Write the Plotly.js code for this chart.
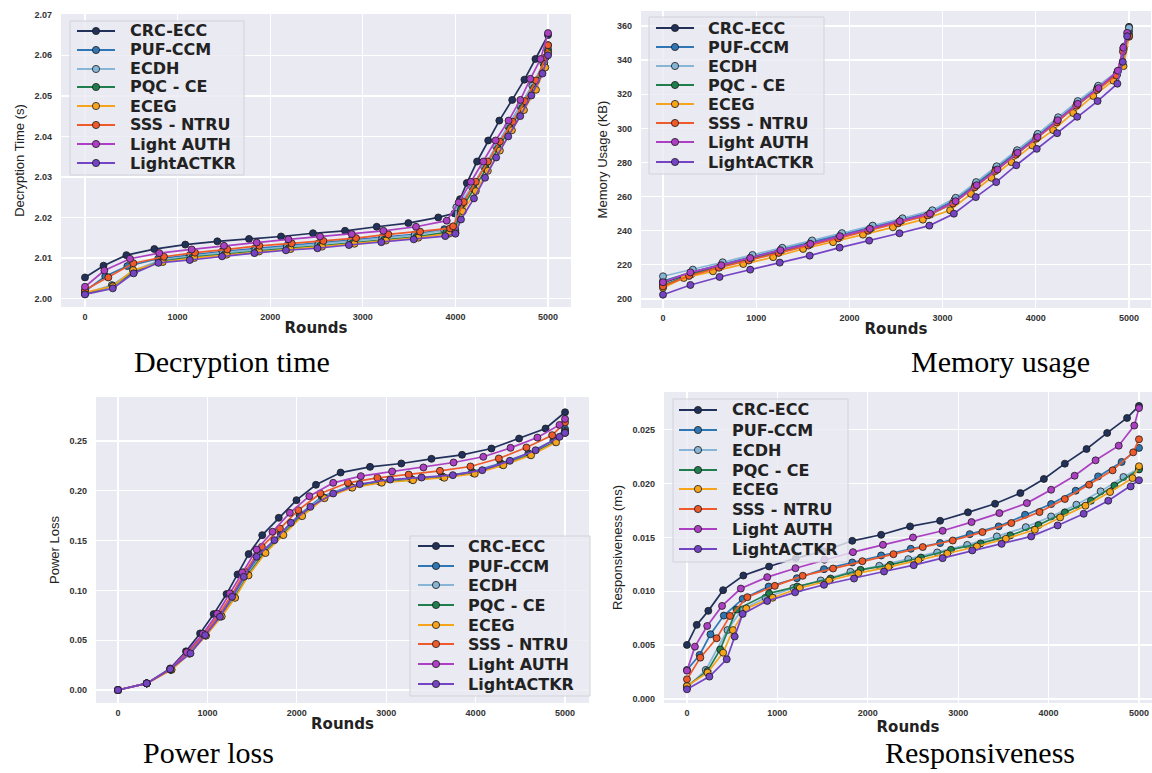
<!DOCTYPE html>
<html>
<head>
<meta charset="utf-8">
<script src="https://cdn.plot.ly/plotly-3.0.1.min.js"></script>
<style>html,body{margin:0;padding:0;background:#fff;}#chart{width:1152px;height:773px;}</style>
</head>
<body>
<div id="chart"></div>
<script>
// ---------- series names ----------
const seriesNames = ['CRC-ECC', 'PUF-CCM', 'ECDH', 'PQC - CE', 'ECEG', 'SSS - NTRU', 'Light AUTH', 'LightACTKR'];
const xTicks = [0, 1000, 2000, 3000, 4000, 5000];
const captions = ['Decryption time', 'Memory usage', 'Power loss', 'Responsiveness'];
const yTitles = ['Decryption Time (s)', 'Memory Usage (KB)', 'Power Loss', 'Responsiveness (ms)'];

// ---------- Panel 1: Decryption time ----------
const decCRC_x = [0, 200, 447, 749, 1083, 1429, 1771, 2117, 2462, 2808, 3150, 3492, 3815, 3990, 4050, 4123, 4234, 4354, 4474, 4613, 4745, 4864, 5000];
const decCRC_y = [2.0052, 2.0081, 2.0107, 2.0122, 2.0133, 2.0141, 2.0147, 2.0153, 2.0161, 2.0167, 2.0177, 2.0186, 2.0200, 2.0210, 2.0245, 2.0285, 2.0338, 2.0390, 2.0439, 2.0490, 2.0540, 2.0591, 2.0650];
const decPUF_x = [0, 219, 458, 790, 1130, 1480, 1830, 2180, 2520, 2870, 3210, 3560, 3880, 3995, 4070, 4200, 4330, 4460, 4590, 4720, 4850, 4960, 5000];
const decPUF_y = [2.0018, 2.0055, 2.0080, 2.0098, 2.0107, 2.0116, 2.0123, 2.0130, 2.0136, 2.0143, 2.0151, 2.0158, 2.0171, 2.0175, 2.0232, 2.0283, 2.0333, 2.0383, 2.0433, 2.0483, 2.0533, 2.0583, 2.0625];
const decECDH_x = [0, 290, 520, 800, 1140, 1490, 1840, 2180, 2520, 2870, 3210, 3560, 3880, 3995, 4010, 4180, 4310, 4440, 4570, 4700, 4830, 4950, 5000];
const decECDH_y = [2.0012, 2.0033, 2.0068, 2.0094, 2.0104, 2.0113, 2.0120, 2.0127, 2.0133, 2.0140, 2.0148, 2.0156, 2.0168, 2.0172, 2.0225, 2.0275, 2.0325, 2.0375, 2.0425, 2.0475, 2.0525, 2.0580, 2.0615];
const decPQC_x = [0, 300, 530, 820, 1160, 1510, 1860, 2200, 2540, 2890, 3230, 3580, 3900, 3998, 4060, 4200, 4330, 4460, 4590, 4720, 4850, 4960, 5000];
const decPQC_y = [2.0011, 2.0031, 2.0066, 2.0092, 2.0102, 2.0110, 2.0117, 2.0124, 2.0130, 2.0137, 2.0145, 2.0152, 2.0163, 2.0168, 2.0220, 2.0270, 2.0320, 2.0370, 2.0420, 2.0470, 2.0520, 2.0575, 2.0610];
const decECEG_x = [0, 300, 520, 840, 1180, 1530, 1880, 2220, 2560, 2910, 3250, 3600, 3930, 4000, 4080, 4220, 4350, 4480, 4610, 4740, 4870, 4970, 5000];
const decECEG_y = [2.0015, 2.0030, 2.0070, 2.0090, 2.0100, 2.0108, 2.0116, 2.0122, 2.0128, 2.0135, 2.0143, 2.0150, 2.0160, 2.0163, 2.0215, 2.0265, 2.0315, 2.0365, 2.0415, 2.0465, 2.0515, 2.0570, 2.0605];
const decSSS_x = [0, 252, 522, 853, 1188, 1537, 1883, 2232, 2574, 2927, 3276, 3618, 3942, 3975, 4090, 4220, 4350, 4480, 4620, 4750, 4870, 4975, 5000];
const decSSS_y = [2.0021, 2.0052, 2.0087, 2.0103, 2.0113, 2.0121, 2.0130, 2.0136, 2.0142, 2.0149, 2.0158, 2.0165, 2.0173, 2.0178, 2.0238, 2.0288, 2.0338, 2.0387, 2.0436, 2.0487, 2.0538, 2.0595, 2.0625];
const decAUTH_x = [0, 209, 486, 802, 1152, 1501, 1854, 2196, 2538, 2880, 3222, 3574, 3906, 4035, 4167, 4302, 4434, 4574, 4701, 4809, 4920, 5000];
const decAUTH_y = [2.0029, 2.0069, 2.0098, 2.0112, 2.0121, 2.0130, 2.0138, 2.0146, 2.0153, 2.0159, 2.0167, 2.0177, 2.0192, 2.0237, 2.0288, 2.0338, 2.0390, 2.0439, 2.0490, 2.0542, 2.0591, 2.0655];
const decACT_x = [0, 300, 525, 793, 1132, 1480, 1830, 2170, 2510, 2850, 3200, 3550, 3890, 4000, 4060, 4200, 4320, 4440, 4570, 4700, 4820, 4940, 5000];
const decACT_y = [2.0010, 2.0025, 2.0062, 2.0088, 2.0095, 2.0104, 2.0112, 2.0119, 2.0124, 2.0132, 2.0139, 2.0146, 2.0154, 2.0160, 2.0195, 2.0247, 2.0298, 2.0348, 2.0400, 2.0450, 2.0501, 2.0555, 2.0600];

// ---------- Panel 2: Memory usage ----------
const memCRC_x = [0, 300, 620, 940, 1260, 1580, 1900, 2220, 2540, 2860, 3120, 3350, 3570, 3790, 4010, 4230, 4440, 4660, 4870, 4940, 5000];
const memCRC_y = [209.5, 215.0, 219.5, 224.0, 228.3, 232.5, 236.8, 241.2, 245.5, 250.0, 257.0, 266.5, 276.0, 285.5, 295.0, 304.5, 314.0, 323.5, 332.0, 347.0, 359.5];
const memPUF_x = [0, 310, 630, 950, 1270, 1590, 1910, 2240, 2560, 2880, 3130, 3355, 3575, 3795, 4015, 4235, 4445, 4665, 4875, 4945, 5000];
const memPUF_y = [210.5, 215.8, 220.3, 224.8, 229.2, 233.5, 237.8, 242.2, 246.5, 251.0, 258.2, 267.5, 277.0, 286.5, 296.0, 305.5, 315.0, 324.3, 332.8, 347.5, 357.0];
const memECDH_x = [0, 320, 640, 960, 1280, 1600, 1920, 2250, 2570, 2890, 3140, 3360, 3580, 3800, 4020, 4240, 4450, 4670, 4880, 4950, 5000];
const memECDH_y = [213.3, 217.2, 221.5, 225.8, 230.0, 234.3, 238.6, 243.0, 247.3, 252.0, 259.3, 268.5, 277.8, 287.2, 296.8, 306.5, 316.0, 325.0, 333.5, 348.0, 359.0];
const memPQC_x = [0, 305, 625, 945, 1265, 1585, 1905, 2230, 2550, 2870, 3125, 3352, 3572, 3792, 4012, 4232, 4442, 4662, 4872, 4942, 5000];
const memPQC_y = [208.0, 214.5, 219.0, 223.3, 227.8, 232.0, 236.3, 240.8, 245.0, 249.5, 256.5, 266.0, 275.5, 285.0, 294.5, 304.0, 313.5, 323.0, 331.5, 346.0, 355.0];
const memECEG_x = [0, 223, 536, 861, 1182, 1503, 1825, 2146, 2467, 2788, 3081, 3305, 3524, 3739, 3962, 4186, 4401, 4616, 4832, 4941, 5000];
const memECEG_y = [206.5, 212.3, 216.2, 220.5, 224.5, 229.3, 233.3, 237.7, 242.0, 246.5, 252.0, 261.6, 271.0, 280.2, 290.0, 299.0, 309.0, 319.0, 328.0, 336.5, 353.7];
const memSSS_x = [0, 280, 600, 920, 1240, 1560, 1880, 2200, 2520, 2840, 3110, 3345, 3565, 3785, 4005, 4225, 4435, 4655, 4865, 4935, 5000];
const memSSS_y = [207.4, 213.5, 218.3, 222.5, 227.0, 231.3, 235.5, 240.0, 244.3, 249.0, 256.0, 265.5, 275.0, 284.5, 294.0, 303.5, 313.3, 322.5, 331.0, 345.0, 354.0];
const memAUTH_x = [0, 294, 626, 936, 1260, 1581, 1898, 2219, 2540, 2865, 3140, 3366, 3589, 3804, 4019, 4235, 4450, 4673, 4881, 4940, 4980];
const memAUTH_y = [209.8, 215.6, 219.8, 224.0, 228.6, 232.3, 236.8, 241.1, 245.6, 250.0, 257.3, 266.7, 275.9, 285.7, 294.9, 304.8, 314.4, 323.6, 333.8, 347.3, 356.0];
const memACT_x = [0, 294, 607, 936, 1253, 1574, 1895, 2212, 2537, 2858, 3121, 3356, 3575, 3790, 4010, 4229, 4444, 4663, 4875, 4933, 4980];
const memACT_y = [202.5, 208.2, 212.9, 217.2, 221.3, 225.4, 230.1, 234.2, 238.5, 243.0, 250.0, 259.7, 268.5, 278.4, 288.0, 297.2, 306.8, 316.0, 326.2, 339.0, 354.0];

// ---------- Panel 3: Power loss ----------
const powCRC_x = [0, 321, 584, 761, 918, 1070, 1214, 1337, 1461, 1613, 1798, 1996, 2214, 2490, 2819, 3169, 3506, 3848, 4177, 4486, 4782, 5000];
const powCRC_y = [0, 0.0067, 0.0217, 0.0388, 0.0568, 0.0762, 0.0963, 0.1160, 0.1364, 0.1554, 0.1728, 0.1905, 0.2059, 0.2182, 0.2239, 0.2273, 0.2320, 0.2360, 0.2423, 0.2523, 0.2624, 0.2787];
const powPUF_x = [0, 321, 584, 780, 965, 1140, 1290, 1440, 1620, 1820, 2030, 2280, 2590, 2920, 3270, 3620, 3960, 4280, 4590, 4870, 5000];
const powPUF_y = [0, 0.0067, 0.0205, 0.0370, 0.0550, 0.0750, 0.0940, 0.1170, 0.1390, 0.1570, 0.1760, 0.1940, 0.2045, 0.2095, 0.2120, 0.2145, 0.2190, 0.2275, 0.2375, 0.2505, 0.2620];
const powECDH_x = [0, 321, 590, 790, 975, 1150, 1300, 1450, 1630, 1830, 2040, 2290, 2600, 2930, 3280, 3630, 3970, 4290, 4600, 4880, 5000];
const powECDH_y = [0, 0.0067, 0.0205, 0.0370, 0.0550, 0.0745, 0.0935, 0.1160, 0.1385, 0.1565, 0.1755, 0.1935, 0.2040, 0.2090, 0.2115, 0.2140, 0.2180, 0.2265, 0.2365, 0.2495, 0.2600];
const powPQC_x = [0, 321, 595, 795, 980, 1155, 1305, 1455, 1640, 1840, 2050, 2300, 2610, 2940, 3290, 3640, 3980, 4300, 4610, 4890, 5000];
const powPQC_y = [0, 0.0067, 0.0205, 0.0368, 0.0548, 0.0740, 0.0930, 0.1155, 0.1380, 0.1560, 0.1750, 0.1930, 0.2035, 0.2085, 0.2110, 0.2135, 0.2175, 0.2260, 0.2360, 0.2490, 0.2590];
const powECEG_x = [0, 321, 600, 800, 985, 1160, 1310, 1460, 1650, 1850, 2060, 2310, 2620, 2950, 3300, 3650, 3990, 4310, 4620, 4900, 5000];
const powECEG_y = [0, 0.0067, 0.0203, 0.0365, 0.0545, 0.0738, 0.0925, 0.1150, 0.1375, 0.1555, 0.1745, 0.1925, 0.2030, 0.2080, 0.2105, 0.2130, 0.2170, 0.2255, 0.2355, 0.2485, 0.2580];
const powSSS_x = [0, 321, 584, 775, 960, 1130, 1270, 1420, 1609, 1811, 2016, 2263, 2572, 2901, 3251, 3601, 3942, 4259, 4568, 4856, 5000];
const powSSS_y = [0, 0.0067, 0.0205, 0.0375, 0.0555, 0.0760, 0.0955, 0.1185, 0.1437, 0.1621, 0.1805, 0.1972, 0.2079, 0.2129, 0.2162, 0.2199, 0.2243, 0.2323, 0.2433, 0.2557, 0.2685];
const powAUTH_x = [0, 321, 584, 770, 950, 1110, 1250, 1390, 1551, 1728, 1922, 2140, 2407, 2716, 3066, 3416, 3753, 4086, 4391, 4691, 4938, 5000];
const powAUTH_y = [0, 0.0067, 0.0210, 0.0380, 0.0565, 0.0765, 0.0970, 0.1180, 0.1410, 0.1588, 0.1778, 0.1945, 0.2079, 0.2146, 0.2193, 0.2233, 0.2283, 0.2340, 0.2430, 0.2533, 0.2660, 0.2720];
const powACT_x = [0, 321, 584, 811, 975, 1140, 1276, 1407, 1551, 1749, 1934, 2152, 2407, 2704, 3045, 3395, 3745, 4074, 4383, 4671, 4938, 5000];
const powACT_y = [0, 0.0067, 0.0210, 0.0368, 0.0551, 0.0735, 0.0936, 0.1136, 0.1337, 0.1504, 0.1678, 0.1838, 0.1972, 0.2066, 0.2112, 0.2132, 0.2156, 0.2206, 0.2300, 0.2406, 0.2540, 0.2580];

// ---------- Panel 4: Responsiveness ----------
const resCRC_x = [0, 108, 236, 400, 624, 908, 1204, 1512, 1828, 2148, 2468, 2800, 3108, 3408, 3688, 3948, 4180, 4420, 4648, 4868, 5000];
const resCRC_y = [0.00502, 0.00688, 0.00818, 0.01010, 0.01146, 0.01230, 0.01307, 0.01372, 0.01468, 0.01524, 0.01602, 0.01654, 0.01732, 0.01812, 0.01911, 0.02042, 0.02184, 0.02320, 0.02469, 0.02608, 0.02720];
const resPUF_x = [0, 140, 260, 408, 616, 904, 1216, 1516, 1828, 2148, 2476, 2800, 3128, 3448, 3740, 4028, 4300, 4548, 4808, 5000];
const resPUF_y = [0.00270, 0.00409, 0.00601, 0.00774, 0.00929, 0.01044, 0.01121, 0.01205, 0.01267, 0.01332, 0.01394, 0.01447, 0.01530, 0.01602, 0.01710, 0.01809, 0.01933, 0.02066, 0.02200, 0.02330];
const resECDH_x = [0, 208, 448, 608, 868, 1176, 1480, 1808, 2128, 2448, 2768, 3100, 3428, 3748, 4028, 4308, 4576, 4828, 5000];
const resECDH_y = [0.00105, 0.00270, 0.00640, 0.00830, 0.00940, 0.01030, 0.01100, 0.01180, 0.01236, 0.01298, 0.01360, 0.01430, 0.01509, 0.01595, 0.01694, 0.01803, 0.01927, 0.02060, 0.02140];
const resPQC_x = [0, 228, 368, 548, 908, 1220, 1588, 1920, 2248, 2588, 2920, 3248, 3576, 3888, 4180, 4468, 4728, 5000];
const resPQC_y = [0.00120, 0.00260, 0.00460, 0.00830, 0.00980, 0.01044, 0.01118, 0.01199, 0.01245, 0.01313, 0.01385, 0.01444, 0.01518, 0.01614, 0.01732, 0.01840, 0.01980, 0.02130];
const resECEG_x = [0, 228, 400, 508, 656, 948, 1248, 1572, 1896, 2228, 2560, 2880, 3208, 3528, 3848, 4128, 4408, 4680, 4928, 5000];
const resECEG_y = [0.00120, 0.00245, 0.00430, 0.00640, 0.00840, 0.00940, 0.01030, 0.01100, 0.01168, 0.01224, 0.01286, 0.01350, 0.01416, 0.01487, 0.01571, 0.01685, 0.01794, 0.01921, 0.02050, 0.02160];
const resSSS_x = [0, 148, 328, 476, 668, 972, 1280, 1616, 1940, 2284, 2608, 2940, 3268, 3588, 3900, 4180, 4448, 4708, 4936, 5000];
const resSSS_y = [0.00183, 0.00384, 0.00564, 0.00771, 0.00945, 0.01050, 0.01143, 0.01211, 0.01279, 0.01344, 0.01410, 0.01471, 0.01549, 0.01633, 0.01735, 0.01856, 0.01989, 0.02122, 0.02289, 0.02410];
const resAUTH_x = [0, 88, 224, 388, 596, 888, 1200, 1520, 1836, 2168, 2500, 2828, 3148, 3456, 3760, 4028, 4288, 4520, 4776, 4948, 5000];
const resAUTH_y = [0.00263, 0.00486, 0.00678, 0.00864, 0.01025, 0.01131, 0.01214, 0.01292, 0.01363, 0.01431, 0.01499, 0.01561, 0.01642, 0.01725, 0.01818, 0.01942, 0.02072, 0.02215, 0.02351, 0.02537, 0.02700];
const resACT_x = [0, 248, 440, 528, 616, 888, 1196, 1516, 1848, 2180, 2508, 2828, 3156, 3480, 3808, 4100, 4388, 4660, 4908, 5000];
const resACT_y = [0.00090, 0.00208, 0.00369, 0.00580, 0.00790, 0.00910, 0.00990, 0.01060, 0.01118, 0.01183, 0.01242, 0.01307, 0.01379, 0.01440, 0.01509, 0.01611, 0.01719, 0.01840, 0.01973, 0.02030];

// ---------- styles ----------
const colors = ['#22315a', '#2f76b5', '#86b5d6', '#1f7d4e', '#f5a41c', '#ee5a2a', '#ac3fc2', '#7444c4'];
const W = 1152, H = 773;
const px = v => v / W;
const py = v => 1 - v / H;

const panelData = [
  [[decCRC_x, decCRC_y], [decPUF_x, decPUF_y], [decECDH_x, decECDH_y], [decPQC_x, decPQC_y], [decECEG_x, decECEG_y], [decSSS_x, decSSS_y], [decAUTH_x, decAUTH_y], [decACT_x, decACT_y]],
  [[memCRC_x, memCRC_y], [memPUF_x, memPUF_y], [memECDH_x, memECDH_y], [memPQC_x, memPQC_y], [memECEG_x, memECEG_y], [memSSS_x, memSSS_y], [memAUTH_x, memAUTH_y], [memACT_x, memACT_y]],
  [[powCRC_x, powCRC_y], [powPUF_x, powPUF_y], [powECDH_x, powECDH_y], [powPQC_x, powPQC_y], [powECEG_x, powECEG_y], [powSSS_x, powSSS_y], [powAUTH_x, powAUTH_y], [powACT_x, powACT_y]],
  [[resCRC_x, resCRC_y], [resPUF_x, resPUF_y], [resECDH_x, resECDH_y], [resPQC_x, resPQC_y], [resECEG_x, resECEG_y], [resSSS_x, resSSS_y], [resAUTH_x, resAUTH_y], [resACT_x, resACT_y]]
];

// layout geometry (pixels)
const panels = [
  {dx: [61, 571], dy: [14, 307], xr: [-259, 5248], yr: [1.9979, 2.0702], dt: 0.01, fmt: '.2f',
   leg: {box: [70, 244, 21, 175], rows: [31, 50, 69, 87, 106, 125, 144, 163], line: [77, 115], text: 128},
   cap: [232, 361]},
  {dx: [641, 1151], dy: [11, 308], xr: [-236, 5236], yr: [194.7, 368.8], dt: 20, fmt: 'd',
   leg: {box: [649, 824, 17, 174], rows: [28, 47, 66, 85, 104, 123, 142, 162], line: [656, 694], text: 706},
   cap: [1000, 361]},
  {dx: [96, 589], dy: [397, 703], xr: [-246, 5268], yr: [-0.013, 0.294], dt: 0.05, fmt: '.2f',
   leg: {box: [410, 590, 536, 696], rows: [546, 566, 585, 605, 625, 644, 664, 684], line: [418, 454], text: 466},
   cap: [208, 752]},
  {dx: [664, 1152], dy: [392, 703], xr: [-254, 5144], yr: [-0.00037, 0.02849], dt: 0.005, fmt: '.3f',
   leg: {box: [673, 848, 399, 562], rows: [410, 430, 450, 470, 489, 509, 529, 549], line: [679, 717], text: 730},
   cap: [980, 752]}
];

const traces = [];
const layout = {
  width: W, height: H,
  margin: {l: 0, r: 0, t: 0, b: 0},
  paper_bgcolor: '#ffffff',
  plot_bgcolor: '#eaeaf2',
  showlegend: false,
  shapes: [],
  annotations: []
};

const tickFont = {family: 'Liberation Sans, Arial, sans-serif', size: 9, color: '#333333', weight: 'bold'};

panels.forEach((p, k) => {
  const xa = k === 0 ? 'x' : 'x' + (k + 1);
  const ya = k === 0 ? 'y' : 'y' + (k + 1);
  const xKey = k === 0 ? 'xaxis' : 'xaxis' + (k + 1);
  const yKey = k === 0 ? 'yaxis' : 'yaxis' + (k + 1);
  layout[xKey] = {
    domain: [px(p.dx[0]), px(p.dx[1])], range: p.xr, anchor: ya,
    tickmode: 'array', tickvals: xTicks, ticktext: xTicks.map(String),
    showgrid: true, gridcolor: '#ffffff', gridwidth: 1.3, zeroline: false, showline: false,
    ticks: '', ticklabelstandoff: 3, tickfont: tickFont,
    title: {text: 'Rounds', font: {family: 'DejaVu Sans, sans-serif', size: 15, color: '#222222', weight: 'bold'}, standoff: 1}
  };
  layout[yKey] = {
    domain: [py(p.dy[1]), py(p.dy[0])], range: p.yr, anchor: xa,
    dtick: p.dt, tick0: 0, tickformat: p.fmt,
    showgrid: true, gridcolor: '#ffffff', gridwidth: 1.3, zeroline: false, showline: false,
    ticks: '', ticklabelstandoff: 8, tickfont: tickFont,
    title: {text: yTitles[k], font: {family: 'Liberation Sans, Arial, sans-serif', size: 13, color: '#222222'}, standoff: 6}
  };
  panelData[k].forEach((d, i) => {
    traces.push({
      type: 'scatter', mode: 'lines+markers', name: seriesNames[i],
      x: d[0], y: d[1], xaxis: xa, yaxis: ya,
      line: {color: colors[i], width: 1.7},
      marker: {color: colors[i], size: 7, line: {color: '#1a1a1a', width: 0.8}},
      showlegend: false
    });
  });
  // legend box
  const L = p.leg;
  layout.shapes.push({type: 'rect', xref: 'paper', yref: 'paper',
    x0: px(L.box[0]), x1: px(L.box[1]), y0: py(L.box[3]), y1: py(L.box[2]),
    fillcolor: 'rgba(234,234,242,0.82)', line: {color: '#d2d2da', width: 1}, layer: 'above'});
  seriesNames.forEach((n, i) => {
    const yy = L.rows[i];
    layout.shapes.push({type: 'line', xref: 'paper', yref: 'paper',
      x0: px(L.line[0]), x1: px(L.line[1]), y0: py(yy), y1: py(yy),
      line: {color: colors[i], width: 2}, layer: 'above'});
    const cx = (L.line[0] + L.line[1]) / 2, r = 3.6;
    layout.shapes.push({type: 'circle', xref: 'paper', yref: 'paper',
      x0: px(cx - r), x1: px(cx + r), y0: py(yy + r), y1: py(yy - r),
      fillcolor: colors[i], line: {color: '#1a1a1a', width: 0.8}, layer: 'above'});
    layout.annotations.push({xref: 'paper', yref: 'paper', x: px(L.text), y: py(yy),
      xanchor: 'left', yanchor: 'middle', showarrow: false, text: n,
      font: {family: 'DejaVu Sans, sans-serif', size: 16, color: '#222222', weight: 'bold'}});
  });
  // caption
  layout.annotations.push({xref: 'paper', yref: 'paper', x: px(p.cap[0]), y: py(p.cap[1]),
    xanchor: 'center', yanchor: 'middle', showarrow: false, text: captions[k],
    font: {family: 'Liberation Serif, Times New Roman, serif', size: 30, color: '#000000'}});
});

Plotly.newPlot('chart', traces, layout, {displayModeBar: false, staticPlot: true});
</script>
</body>
</html>
